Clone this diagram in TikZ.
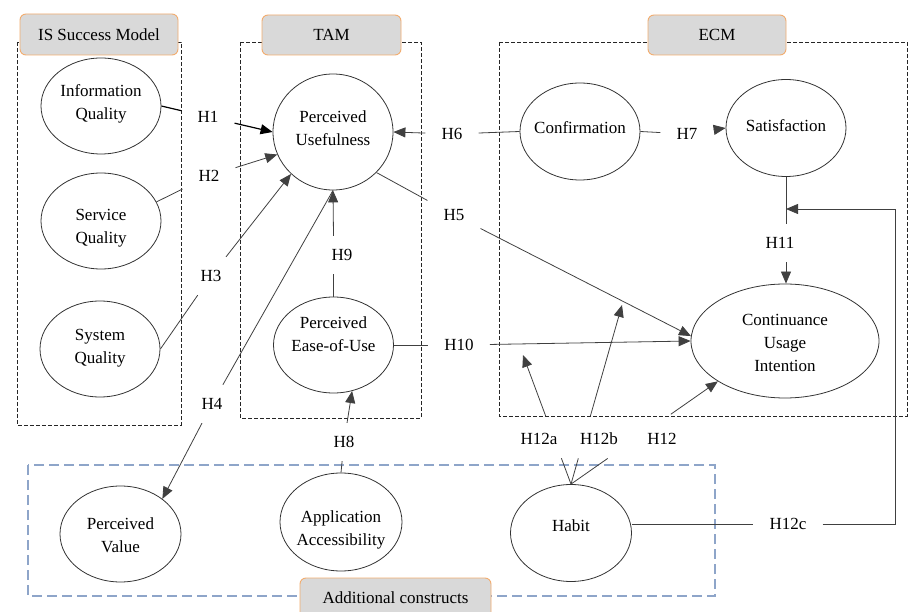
\documentclass[tikz,border=0pt]{standalone}
\usepackage{fontspec}
\setmainfont{Liberation Serif}
\usetikzlibrary{arrows.meta,shapes.geometric,calc}
\definecolor{lblfill}{HTML}{D9D9D9}
\definecolor{lbldraw}{HTML}{F2AC6E}
\definecolor{addblue}{HTML}{8EA5C9}
\definecolor{linec}{HTML}{404040}
\begin{document}
\begin{tikzpicture}[x=1pt,y=-1pt,
  font=\fontsize{17}{23}\selectfont,
  construct/.style={ellipse, draw=black!80, line width=0.8pt, inner sep=0pt},
  ctext/.style={align=center, inner sep=0pt},
  hl/.style={inner xsep=16pt, inner ysep=0pt, minimum height=38pt},
  conn/.style={draw=linec, line width=0.8pt},
  arr/.style={conn, -{Triangle[length=12pt,width=10pt]}},
  dframe/.style={draw=black!85, dash pattern=on 4pt off 2pt, line width=0.7pt},
  addframe/.style={draw=addblue, dash pattern=on 10pt off 5pt, line width=1.1pt},
  groupbox/.style={draw=lbldraw, fill=lblfill, rounded corners=6pt, line width=0.9pt, inner sep=0pt}
]
\useasboundingbox (0,0) rectangle (914,612);

% frames
\draw[dframe] (17,42) rectangle (181,425);
\draw[dframe] (240,42) rectangle (421,418);
\draw[dframe] (499,42) rectangle (907,416);
\draw[addframe] (28,465) rectangle (715,596);

% group labels
\node[groupbox, minimum width=158pt, minimum height=41pt] (gis) at (99,34.5) {IS Success Model};
\node[groupbox, minimum width=139pt, minimum height=40pt] (gtam) at (331.5,35) {TAM};
\node[groupbox, minimum width=138pt, minimum height=40pt] (gecm) at (717,35) {ECM};
\node[groupbox, minimum width=191pt, minimum height=40pt] (gadd) at (395.5,598) {Additional constructs};

% constructs
\node[construct, minimum width=120pt, minimum height=96pt] (iq) at (101,106) {};
\node[ctext] (iqt) at (101,104) {Information\\Quality};
\node[construct, minimum width=120pt, minimum height=96pt] (sq) at (101,221) {};
\node[ctext] (sqt) at (101,228) {Service\\Quality};
\node[construct, minimum width=120pt, minimum height=96pt] (sys) at (100,349) {};
\node[ctext] (syst) at (100,348) {System\\Quality};
\node[construct, minimum width=120pt, minimum height=116pt] (pu) at (333,132) {};
\node[ctext] (put) at (333,128.5) {Perceived\\Usefulness};
\node[construct, minimum width=120pt, minimum height=96pt] (peou) at (333.5,345) {};
\node[ctext] (peout) at (333.5,334.5) {Perceived\\Ease-of-Use};
\node[construct, minimum width=120pt, minimum height=97pt] (conf) at (580,131.5) {};
\node[ctext] (conft) at (580,128) {Confirmation};
\node[construct, minimum width=120pt, minimum height=97pt] (sat) at (786,128) {};
\node[ctext] (satt) at (786,126) {Satisfaction};
\node[construct, minimum width=188pt, minimum height=114pt] (cui) at (785,341) {};
\node[ctext] (cuit) at (785,342.7) {Continuance\\Usage\\Intention};
\node[construct, minimum width=121pt, minimum height=96pt] (pv) at (120.5,534) {};
\node[ctext] (pvt) at (120.5,535) {Perceived\\Value};
\node[construct, minimum width=122pt, minimum height=98pt] (aa) at (341,522) {};
\node[ctext] (aat) at (341,530) {Application\\Accessibility};
\node[construct, minimum width=121pt, minimum height=97pt] (habit) at (571,533) {};
\node[ctext] (habitt) at (571,526) {Habit};

% hypothesis labels
\node[hl] (h1) at (208,117) {H1};
\node[hl] (h2) at (209,176) {H2};
\node[hl] (h3) at (211,276) {H3};
\node[hl] (h4) at (212,404) {H4};
\node[hl] (h5) at (454,215) {H5};
\node[hl] (h6) at (452,134) {H6};
\node[hl] (h7) at (687,134) {H7};
\node[hl] (h8) at (344,442) {H8};
\node[hl] (h9) at (342,255) {H9};
\node[hl] (h10) at (459,345) {H10};
\node[hl] (h11) at (780,243) {H11};
\node[hl] (h12a) at (539,439) {H12a};
\node[hl] (h12b) at (599,439) {H12b};
\node[hl] (h12) at (662,439) {H12};
\node[hl] (h12c) at (788,524) {H12c};

% free ends
\coordinate (t12a) at (523,355);
\coordinate (t12b) at (622,305);
\coordinate (j11) at (786,209);
\coordinate (c12c) at (895,209);

% connectors
\draw[conn, draw=black, line width=1.2pt] (iq.east) -- (h1);
\draw[arr, draw=black, line width=1.2pt] (h1) -- (pu.180);
\draw[conn] (sq.19) -- (h2);
\draw[arr] (h2) -- (pu.202);
\draw[conn] (sys.east) -- (h3);
\draw[arr] (h3) -- (pu.225);
\draw[conn] (pu.south) -- (h4);
\draw[arr] (h4) -- (pv.40);
\draw[conn] (pu.317) -- (h5);
\draw[arr] (h5) -- (cui.177);
\draw[conn] (conf.west) -- (h6);
\draw[arr] (h6) -- (pu.east);
\draw[conn] (conf.east) -- (h7);
\draw[arr] (h7) -- (sat.west);
\draw[conn] (aa.north) -- (h8);
\draw[arr] (h8) -- (peou.292);
\draw[conn] (peou.north) -- (peou.north |- h9.south);
\draw[arr] (peou.north |- h9.north) -- (pu.south);
\draw[conn] (peou.east) -- (h10);
\draw[arr] (h10) -- (cui.west);
\draw[conn] (sat.south) -- (sat.south |- h11.north);
\draw[arr] (sat.south |- h11.south) -- (sat.south |- cui.north);

\draw[conn] (habit.north) -- ($(habit.north)!0.2!(t12a)$);
\draw[arr] ($(habit.north)!0.523!(t12a)$) -- (t12a);
\draw[conn] (habit.north) -- ($(habit.north)!0.144!(t12b)$);
\draw[arr] ($(habit.north)!0.378!(t12b)$) -- (t12b);
\draw[conn] (habit.north) -- ($(habit.north)!0.25!(cui.211)$);
\draw[arr] ($(habit.north)!0.68!(cui.211)$) -- (cui.211);

\draw[conn] (habit.east |- h12c) -- (h12c);
\draw[arr] (h12c.east) -| (c12c) -- (j11);
\end{tikzpicture}
\end{document}
